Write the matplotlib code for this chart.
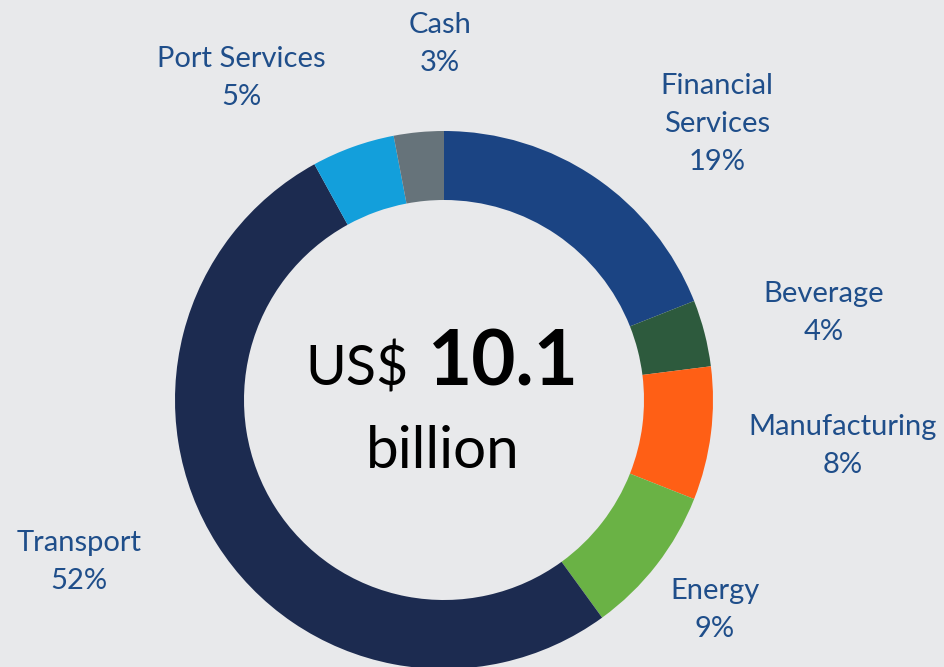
import matplotlib
matplotlib.use("Agg")
import matplotlib.pyplot as plt

categories = ["Financial\nServices", "Beverage", "Manufacturing", "Energy", "Transport", "Port Services", "Cash"]
shares = [19, 4, 8, 9, 52, 5, 3]
colors = ["#1B4483", "#2D5A3D", "#FF5F15", "#6AB245", "#1C2B50", "#139FDB", "#66737A"]
# label positions in pixel coords (x, y from top)
label_pos = [(717, 124), (824, 313), (843, 446), (715, 610), (79, 562), (241, 78), (440, 44)]

W, H = 944, 667
bg = "#E8E9EB"
plt.rcParams['font.family'] = ['Lato', 'DejaVu Sans']
fig = plt.figure(figsize=(W / 100, H / 100), dpi=100, facecolor=bg)
ax = fig.add_axes([0, 0, 1, 1])
ax.set_facecolor(bg)

cx, cy = 444, H - 400
R, w = 269, 69
ax.pie(shares, colors=colors, startangle=90, counterclock=False,
       radius=R, center=(cx, cy), frame=True,
       wedgeprops=dict(width=w, linewidth=0))
ax.set_xlim(0, W)
ax.set_ylim(0, H)
ax.set_aspect('equal')
ax.axis('off')

label_color = "#1F4E8A"
for cat, val, (x, y) in zip(categories, shares, label_pos):
    ax.text(x, H - y, f"{cat}\n{val}%", ha='center', va='center',
            fontsize=21, color=label_color, linespacing=1.55)

ax.text(409, H - 385, "US$", ha='right', va='baseline', fontsize=40, color='black')
ax.text(428, H - 385, "10.1", ha='left', va='baseline', fontsize=55, fontweight='bold', color='black')
ax.text(443, H - 468, "billion", ha='center', va='baseline', fontsize=42, color='black')

fig.savefig("out.png", dpi=100, facecolor=bg)
